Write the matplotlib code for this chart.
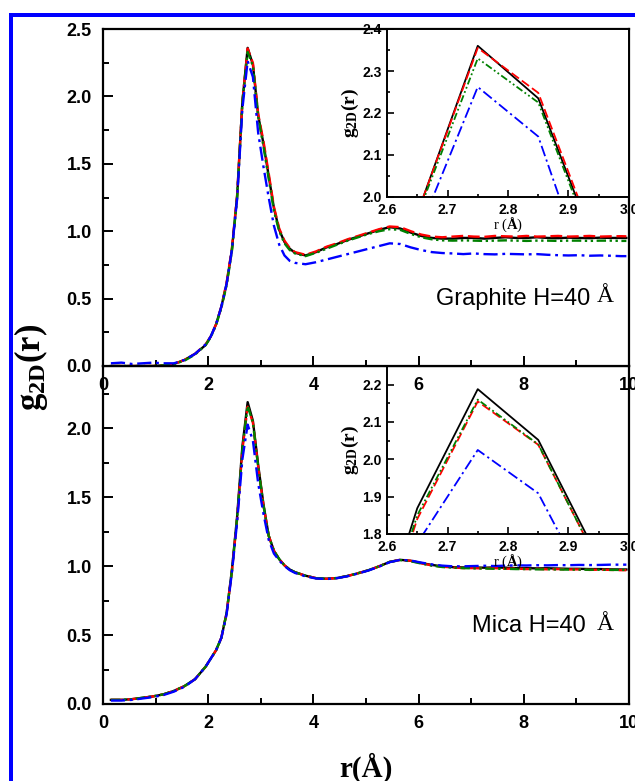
import matplotlib.pyplot as plt
from matplotlib.ticker import MultipleLocator
from matplotlib.patches import Rectangle

plt.rcParams['font.family'] = ['Liberation Sans', 'DejaVu Sans']
plt.rcParams['font.weight'] = 'bold'
plt.rcParams['mathtext.fontset'] = 'custom'
plt.rcParams['mathtext.rm'] = 'Liberation Serif'
plt.rcParams['mathtext.bf'] = 'Liberation Serif:bold'
plt.rcParams['mathtext.it'] = 'Liberation Serif:italic'

# r grid (Å): coarse in the flat parts, 0.1 around the first peak
r = [0.15, 0.35, 0.55, 0.75, 0.95, 1.15, 1.35, 1.55, 1.75, 1.95,
     2.05, 2.15, 2.25, 2.35, 2.45, 2.55, 2.65, 2.75, 2.85, 2.95,
     3.05, 3.15, 3.25, 3.35, 3.45, 3.55, 3.65,
     3.85, 4.05, 4.25, 4.45, 4.65, 4.85, 5.05, 5.25, 5.45, 5.65,
     5.85, 6.05, 6.25, 6.45, 6.65, 6.85, 7.05, 7.25, 7.45, 7.65,
     7.85, 8.05, 8.25, 8.45, 8.65, 8.85, 9.05, 9.25, 9.45, 9.65,
     9.85, 9.95]

# graphite, H = 40 Å
gra_k = [0.0, 0.0, 0.0, 0.0, 0.0, 0.005, 0.015, 0.045, 0.09, 0.155,
         0.22, 0.31, 0.44, 0.61, 0.86, 1.26, 1.96, 2.36, 2.235, 1.86,
         1.65, 1.41, 1.17, 1.01, 0.92, 0.87, 0.84,
         0.82, 0.845, 0.88, 0.905, 0.935, 0.96, 0.985, 1.01, 1.03, 1.02,
         0.99, 0.965, 0.95, 0.945, 0.945, 0.95, 0.95, 0.945, 0.95, 0.955,
         0.95, 0.95, 0.955, 0.95, 0.948, 0.952, 0.95, 0.948, 0.952, 0.95,
         0.95, 0.95]
gra_r = [0.0, 0.0, 0.0, 0.0, 0.0, 0.005, 0.015, 0.045, 0.09, 0.16,
         0.22, 0.31, 0.44, 0.62, 0.87, 1.27, 1.96, 2.355, 2.248, 1.87,
         1.67, 1.43, 1.18, 1.02, 0.93, 0.875, 0.845,
         0.825, 0.85, 0.885, 0.91, 0.94, 0.965, 0.99, 1.015, 1.035, 1.03,
         1.0, 0.975, 0.96, 0.955, 0.96, 0.965, 0.96, 0.958, 0.965, 0.962,
         0.96, 0.965, 0.96, 0.962, 0.965, 0.96, 0.962, 0.965, 0.96, 0.962,
         0.963, 0.962]
gra_g = [0.0, 0.0, 0.0, 0.0, 0.0, 0.005, 0.015, 0.04, 0.085, 0.155,
         0.215, 0.305, 0.43, 0.60, 0.85, 1.25, 1.955, 2.33, 2.225, 1.85,
         1.63, 1.39, 1.15, 1.0, 0.91, 0.86, 0.835,
         0.815, 0.84, 0.87, 0.90, 0.93, 0.955, 0.98, 1.0, 1.015, 1.01,
         0.98, 0.955, 0.94, 0.932, 0.93, 0.932, 0.93, 0.928, 0.93, 0.932,
         0.93, 0.928, 0.93, 0.93, 0.928, 0.93, 0.93, 0.928, 0.93, 0.93,
         0.928, 0.928]
gra_b = [0.02, 0.025, 0.015, 0.02, 0.025, 0.02, 0.02, 0.045, 0.09, 0.16,
         0.22, 0.31, 0.44, 0.61, 0.86, 1.24, 1.908, 2.262, 2.144, 1.73,
         1.48, 1.25, 1.04, 0.90, 0.82, 0.78, 0.765,
         0.755, 0.77, 0.79, 0.81, 0.83, 0.85, 0.87, 0.89, 0.91, 0.905,
         0.88, 0.86, 0.845, 0.838, 0.835, 0.83, 0.835, 0.83, 0.828, 0.832,
         0.83, 0.828, 0.83, 0.825, 0.822, 0.82, 0.822, 0.818, 0.82, 0.818,
         0.815, 0.815]

# mica, H = 40 Å
mica_k = [0.03, 0.03, 0.035, 0.045, 0.055, 0.07, 0.095, 0.13, 0.18, 0.27,
          0.33, 0.39, 0.48, 0.66, 0.97, 1.36, 1.869, 2.188, 2.052, 1.733,
          1.45, 1.22, 1.11, 1.05, 1.005, 0.975, 0.955,
          0.93, 0.912, 0.908, 0.913, 0.928, 0.948, 0.97, 0.998, 1.03, 1.045,
          1.038, 1.022, 1.008, 0.998, 0.992, 0.99, 0.99, 0.988, 0.99, 0.988,
          0.985, 0.985, 0.983, 0.984, 0.982, 0.98, 0.98, 0.978, 0.978, 0.976,
          0.975, 0.975]
mica_r = [0.03, 0.03, 0.035, 0.045, 0.055, 0.07, 0.095, 0.13, 0.18, 0.27,
          0.33, 0.39, 0.48, 0.66, 0.96, 1.34, 1.84, 2.155, 2.039, 1.72,
          1.44, 1.22, 1.11, 1.05, 1.005, 0.975, 0.955,
          0.93, 0.912, 0.908, 0.913, 0.928, 0.948, 0.97, 0.998, 1.03, 1.045,
          1.038, 1.02, 1.005, 0.995, 0.99, 0.985, 0.985, 0.982, 0.985, 0.98,
          0.982, 0.978, 0.98, 0.976, 0.978, 0.975, 0.976, 0.972, 0.974, 0.972,
          0.97, 0.97]
mica_g = [0.03, 0.03, 0.035, 0.045, 0.055, 0.07, 0.095, 0.13, 0.18, 0.27,
          0.33, 0.39, 0.48, 0.66, 0.96, 1.35, 1.85, 2.16, 2.04, 1.72,
          1.44, 1.22, 1.11, 1.05, 1.005, 0.975, 0.955,
          0.93, 0.912, 0.908, 0.913, 0.928, 0.948, 0.97, 0.998, 1.03, 1.043,
          1.035, 1.018, 1.003, 0.993, 0.988, 0.985, 0.983, 0.982, 0.98, 0.98,
          0.978, 0.978, 0.976, 0.976, 0.975, 0.974, 0.974, 0.973, 0.973, 0.972,
          0.972, 0.972]
mica_b = [0.025, 0.025, 0.03, 0.04, 0.05, 0.065, 0.09, 0.125, 0.18, 0.27,
          0.33, 0.39, 0.48, 0.65, 0.95, 1.32, 1.775, 2.025, 1.909, 1.60,
          1.38, 1.19, 1.09, 1.04, 1.0, 0.97, 0.95,
          0.925, 0.91, 0.906, 0.912, 0.926, 0.946, 0.968, 0.996, 1.028, 1.045,
          1.04, 1.025, 1.012, 1.003, 0.998, 0.998, 1.0, 1.002, 1.0, 1.003,
          1.005, 1.004, 1.006, 1.005, 1.007, 1.006, 1.008, 1.007, 1.008, 1.01,
          1.01, 1.01]

colors = ['black', '#ff0000', '#008000', '#0000ff']
dashes = ['-', (0, (5, 2)), (0, (4, 1.5, 1, 1.5, 1, 1.5)), (0, (6, 2, 1.2, 2))]

W, H = 635, 781


def box(x0, y0, x1, y1):
    # pixel box (top-left origin) -> figure fraction rect
    return [x0 / W, 1 - y1 / H, (x1 - x0) / W, (y1 - y0) / H]


fig = plt.figure(figsize=(W / 100, H / 100), dpi=100)
ax2 = fig.add_axes(box(103, 366, 629, 704), zorder=1)
ins2 = fig.add_axes(box(387, 366, 629, 534), zorder=2)
ax1 = fig.add_axes(box(103, 29, 629, 366), zorder=3)
ins1 = fig.add_axes(box(387, 29, 629, 197), zorder=4)
ins2.patch.set_alpha(0)

panels = [(ax1, ins1, [gra_k, gra_r, gra_g, gra_b], (0, 2.5), (2.0, 2.4)),
          (ax2, ins2, [mica_k, mica_r, mica_g, mica_b], (0, 2.45), (1.8, 2.25))]

for ax, ins, series, ylim, inylim in panels:
    for y, c, ls in zip(series, colors, dashes):
        ax.plot(r, y, color=c, linestyle=ls, lw=1.7)
        ins.plot(r, y, color=c, linestyle=ls, lw=1.3)
    ax.set_xlim(0, 10)
    ax.set_ylim(*ylim)
    ax.xaxis.set_major_locator(MultipleLocator(2))
    ax.xaxis.set_minor_locator(MultipleLocator(1))
    ax.yaxis.set_major_locator(MultipleLocator(0.5))
    ax.yaxis.set_minor_locator(MultipleLocator(0.25))
    ax.tick_params(which='both', direction='in', top=False, right=False,
                   labelsize=13, width=1.4, pad=8)
    ax.tick_params(which='major', length=7)
    ax.tick_params(which='minor', length=4)
    for s in ax.spines.values():
        s.set_linewidth(1.6)

    ins.set_xlim(2.6, 3.0)
    ins.set_ylim(*inylim)
    ins.xaxis.set_major_locator(MultipleLocator(0.1))
    ins.xaxis.set_minor_locator(MultipleLocator(0.05))
    ins.yaxis.set_major_locator(MultipleLocator(0.1))
    ins.yaxis.set_minor_locator(MultipleLocator(0.05))
    ins.tick_params(which='both', direction='in', top=False, right=False,
                    labelsize=10, width=1.2, pad=4)
    ins.tick_params(which='major', length=5)
    ins.tick_params(which='minor', length=2.5)
    for s in ins.spines.values():
        s.set_linewidth(1.4)
    ins.set_xlabel(r'r ($\mathbf{\AA}$)', family='Liberation Serif',
                   fontsize=10.5, labelpad=-1)
    ins.set_ylabel(r'$\mathrm{g}_{\mathrm{2D}}\mathrm{(r)}$', fontsize=14,
                   labelpad=1)

# panel captions
fig.text(590 / W, 1 - 299 / H, 'Graphite H=40', fontsize=17, weight='normal',
         ha='right', va='center')
fig.text(597 / W, 1 - 297 / H, 'Å', family='Liberation Serif', fontsize=17,
         weight='normal', ha='left', va='center')
fig.text(586 / W, 1 - 626 / H, 'Mica H=40', fontsize=17, weight='normal',
         ha='right', va='center')
fig.text(597 / W, 1 - 624 / H, 'Å', family='Liberation Serif', fontsize=17,
         weight='normal', ha='left', va='center')

# shared axis titles
fig.text(31 / W, 1 - 367 / H, r'$\mathbf{g}_{\mathbf{2D}}\mathbf{(r)}$',
         fontsize=25, rotation=90, ha='center', va='center')
fig.text(366 / W, 1 - 768 / H, 'r(Å)', family='Liberation Serif',
         fontsize=21, weight='bold', ha='center', va='center')

# blue frame along the top and left edges
fig.add_artist(Rectangle((9 / W, 0), 4 / W, 1 - 13 / H, transform=fig.transFigure,
                         facecolor='#0000ff', edgecolor='none'))
fig.add_artist(Rectangle((9 / W, 1 - 17 / H), 1, 4 / H, transform=fig.transFigure,
                         facecolor='#0000ff', edgecolor='none'))

fig.savefig('out.png', dpi=100)
